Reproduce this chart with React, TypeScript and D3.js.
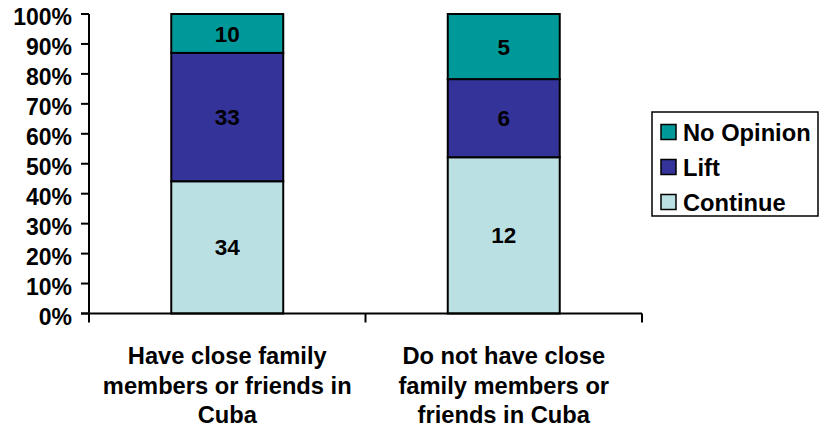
import React from "react";
import * as d3 from "d3";

const categories: string[][] = [
  ["Have close family", "members or friends in", "Cuba"],
  ["Do not have close", "family members or", "friends in Cuba"],
];
const seriesNames = ["Continue", "Lift", "No Opinion"];
const continueVals = [34, 12];
const liftVals = [33, 6];
const noOpinionVals = [10, 5];
const yTicks = [0, 0.1, 0.2, 0.3, 0.4, 0.5, 0.6, 0.7, 0.8, 0.9, 1];
const colors = ["#BBE0E3", "#333399", "#009999"];

const W = 819;
const H = 433;
const FONT = "'Liberation Sans', Arial, Helvetica, sans-serif";

export default function App() {
  const left = 89;
  const right = 642;
  const top = 14;
  const bottom = 313.5;

  const keys = categories.map((_, i) => String(i));
  const x = d3.scaleBand<string>().domain(keys).range([left, right]).padding(0);
  const y = d3.scaleLinear().domain([0, 1]).range([bottom, top]);
  const barW = x.bandwidth() * 0.405;

  const rows = keys.map((k, i) => ({
    key: k,
    Continue: continueVals[i],
    Lift: liftVals[i],
    "No Opinion": noOpinionVals[i],
  }));
  const stack = d3.stack<any>().keys(seriesNames).offset(d3.stackOffsetExpand);
  const stacked = stack(rows);

  const legendItems = [
    { name: "No Opinion", color: colors[2] },
    { name: "Lift", color: colors[1] },
    { name: "Continue", color: colors[0] },
  ];

  const xTickPositions = [left, ...keys.slice(1).map((k) => x(k)!), right];

  return (
    <svg
      width={W}
      height={H}
      style={{ position: "absolute", left: 0, top: 0, background: "#fff" }}
      fontFamily={FONT}
      fontWeight="bold"
    >
      {/* bars */}
      {stacked.map((layer, si) =>
        layer.map((d, i) => {
          const cx = x(keys[i])! + x.bandwidth() / 2;
          const y0 = y(d[0]);
          const y1 = y(d[1]);
          const val = [continueVals, liftVals, noOpinionVals][si][i];
          return (
            <g key={`${si}-${i}`}>
              <rect
                x={cx - barW / 2}
                y={y1}
                width={barW}
                height={y0 - y1}
                fill={colors[si]}
                stroke="#000"
                strokeWidth={2}
              />
              <text
                x={cx}
                y={(y0 + y1) / 2}
                dy="0.36em"
                textAnchor="middle"
                fontSize={22.5}
                fill="#000"
              >
                {val}
              </text>
            </g>
          );
        })
      )}

      {/* y axis */}
      <line x1={left} x2={left} y1={top} y2={bottom} stroke="#000" strokeWidth={2} />
      {yTicks.map((t) => (
        <g key={t}>
          <line x1={left - 8} x2={left} y1={y(t)} y2={y(t)} stroke="#000" strokeWidth={2} />
          <text
            x={72}
            y={y(t) + 3}
            dy="0.36em"
            textAnchor="end"
            fontSize={23}
            fill="#000"
          >
            {d3.format(".0%")(t)}
          </text>
        </g>
      ))}

      {/* x axis */}
      <line x1={left - 8} x2={right} y1={bottom} y2={bottom} stroke="#000" strokeWidth={2} />
      {xTickPositions.map((p, i) => (
        <line key={i} x1={p} x2={p} y1={bottom} y2={bottom + 9} stroke="#000" strokeWidth={2} />
      ))}

      {/* category labels */}
      {categories.map((lines, i) => {
        const cx = x(keys[i])! + x.bandwidth() / 2;
        return (
          <text key={i} textAnchor="middle" fontSize={23.7} fill="#000">
            {lines.map((ln, j) => (
              <tspan key={j} x={cx} y={364 + j * 29.5}>
                {ln}
              </tspan>
            ))}
          </text>
        );
      })}

      {/* legend */}
      <rect x={652} y={112} width={166} height={104} fill="#fff" stroke="#000" strokeWidth={1.5} />
      {legendItems.map((it, i) => {
        const cy = 132 + i * 35;
        return (
          <g key={it.name}>
            <rect x={661} y={cy - 7.5} width={15} height={15} fill={it.color} stroke="#000" strokeWidth={1.5} />
            <text x={683} y={cy} dy="0.36em" fontSize={23.7} fill="#000">
              {it.name}
            </text>
          </g>
        );
      })}
    </svg>
  );
}
